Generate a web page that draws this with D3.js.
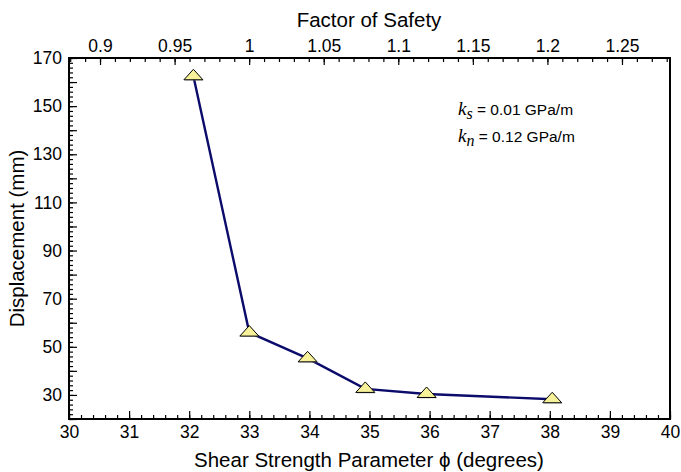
<!DOCTYPE html>
<html>
<head>
<meta charset="utf-8">
<script src="https://cdn.jsdelivr.net/npm/d3@7"></script>
<style>
  html, body { margin: 0; padding: 0; background: #fff; }
  svg { display: block; }
  .axis text { font-family: "Liberation Sans", Arial, Helvetica, sans-serif; font-size: 17.5px; fill: #000; }
  .axis path { display: none; }
  .axis line { stroke: #000; stroke-width: 1.2; }
  .title { font-family: "Liberation Sans", Arial, Helvetica, sans-serif; font-size: 20.5px; fill: #000; }
  .note { font-family: "Liberation Sans", Arial, Helvetica, sans-serif; font-size: 15.5px; fill: #000; }
  .note .k { font-family: "Liberation Serif", "Times New Roman", serif; font-style: italic; font-size: 19px; }
</style>
</head>
<body>
<script>
// Friction angle (degrees) and resulting displacement (mm)
const phi = [32.07, 33.0, 33.97, 34.93, 35.95, 38.04];
const displacement = [162.4, 55.9, 45.2, 32.5, 30.4, 28.2];

// Axis ranges and tick labels
const phiDomain = [30, 40];
const phiTicks = [30, 31, 32, 33, 34, 35, 36, 37, 38, 39, 40];
const dispDomain = [20, 170];
const dispLabels = [30, 50, 70, 90, 110, 130, 150, 170];
const fosDomain = [0.8792, 1.2822];
const fosLabels = [0.9, 0.95, 1, 1.05, 1.1, 1.15, 1.2, 1.25];

const W = 681, H = 472;
const m = { left: 69, right: 11, top: 58, bottom: 53 };

const svg = d3.select("body").append("svg").attr("width", W).attr("height", H);

const x = d3.scaleLinear().domain(phiDomain).range([m.left, W - m.right]);
const xTop = d3.scaleLinear().domain(fosDomain).range([m.left, W - m.right]);
const y = d3.scaleLinear().domain(dispDomain).range([H - m.bottom, m.top]);

const range = (a, b, s) => d3.range(Math.round((b - a) / s) + 1).map(i => +(a + i * s).toFixed(4));

// Bottom axis: ticks point into the plot
svg.append("g").attr("class", "axis").attr("transform", `translate(0,${H - m.bottom})`)
  .call(d3.axisBottom(x).tickValues(range(30, 40, 0.2)).tickFormat("").tickSizeInner(-4).tickSizeOuter(0));
svg.append("g").attr("class", "axis").attr("transform", `translate(0,${H - m.bottom})`)
  .call(d3.axisBottom(x).tickValues(phiTicks).tickFormat(d3.format("d")).tickSizeInner(-8).tickSizeOuter(0))
  .selectAll("text").attr("dy", "0.71em").attr("y", 7);

// Top axis: Factor of Safety
svg.append("g").attr("class", "axis").attr("transform", `translate(0,${m.top})`)
  .call(d3.axisTop(xTop).tickValues(range(0.88, 1.28, 0.01)).tickFormat("").tickSizeInner(-4).tickSizeOuter(0));
svg.append("g").attr("class", "axis").attr("transform", `translate(0,${m.top})`)
  .call(d3.axisTop(xTop).tickValues(fosLabels).tickFormat(d => String(+d)).tickSizeInner(-7).tickSizeOuter(0))
  .selectAll("text").attr("y", -6);

// Left axis
svg.append("g").attr("class", "axis").attr("transform", `translate(${m.left},0)`)
  .call(d3.axisLeft(y).tickValues(range(20, 170, 2)).tickFormat("").tickSizeInner(-4).tickSizeOuter(0));
svg.append("g").attr("class", "axis").attr("transform", `translate(${m.left},0)`)
  .call(d3.axisLeft(y).tickValues(range(20, 170, 10)).tickFormat("").tickSizeInner(-8).tickSizeOuter(0));
svg.append("g").attr("class", "axis").attr("transform", `translate(${m.left},0)`)
  .call(d3.axisLeft(y).tickValues(dispLabels).tickFormat(d3.format("d")).tickSizeInner(0).tickSizeOuter(0).tickPadding(7));

// Plot frame
svg.append("rect")
  .attr("x", m.left).attr("y", m.top)
  .attr("width", W - m.left - m.right).attr("height", H - m.top - m.bottom)
  .attr("fill", "none").attr("stroke", "#000").attr("stroke-width", 2);

// Axis titles
svg.append("text").attr("class", "title").attr("x", 369).attr("y", 27)
  .attr("text-anchor", "middle").text("Factor of Safety");
svg.append("text").attr("class", "title").attr("x", 369).attr("y", 467)
  .attr("text-anchor", "middle").text("Shear Strength Parameter \u03D5 (degrees)");
svg.append("text").attr("class", "title")
  .attr("transform", `translate(24,${(m.top + H - m.bottom) / 2}) rotate(-90)`)
  .attr("text-anchor", "middle").text("Displacement (mm)");

// Stiffness note
const notes = [["s", "0.01"], ["n", "0.12"]];
notes.forEach((n, i) => {
  const t = svg.append("text").attr("class", "note").attr("x", 458).attr("y", 115 + i * 27);
  t.append("tspan").attr("class", "k").text("k");
  t.append("tspan").attr("class", "k").attr("dy", 4).style("font-size", "16px").text(n[0]);
  t.append("tspan").attr("dy", -4).text(` = ${n[1]} GPa/m`);
});

// Data line
const pts = phi.map((p, i) => [p, displacement[i]]);
svg.append("path")
  .datum(pts)
  .attr("fill", "none").attr("stroke", "#0b0b6b").attr("stroke-width", 2.4)
  .attr("d", d3.line().x(d => x(d[0])).y(d => y(d[1])));

// Triangle markers
const tri = "M0,-7 L9.5,3.5 L-9.5,3.5 Z";
svg.append("g").selectAll("path.shadow").data(pts).join("path")
  .attr("transform", d => `translate(${x(d[0]) + 0.8},${y(d[1]) + 1})`)
  .attr("d", tri).attr("fill", "#999").attr("opacity", 0.5);
svg.append("g").selectAll("path.mk").data(pts).join("path")
  .attr("transform", d => `translate(${x(d[0])},${y(d[1])})`)
  .attr("d", tri).attr("fill", "#f7f29a").attr("stroke", "#000").attr("stroke-width", 1);
</script>
</body>
</html>
